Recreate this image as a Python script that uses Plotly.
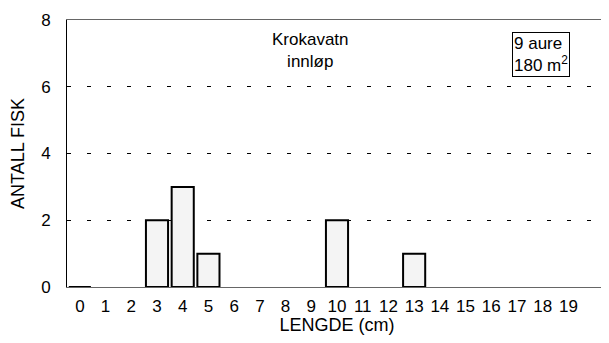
import plotly.graph_objects as go

lengths = list(range(20))
counts = [0, 0, 0, 2, 3, 1, 0, 0, 0, 0, 2, 0, 0, 1, 0, 0, 0, 0, 0, 0]
tick_labels = [str(v) for v in lengths]
y_ticks = [0, 2, 4, 6, 8]

# outline only for drawn bars (the reference shows the first empty class as a line)
line_widths = [2 if (c > 0 or i == 0) else 0 for i, c in enumerate(counts)]

fig = go.Figure()
fig.add_trace(go.Bar(
    x=lengths, y=counts, width=0.86,
    marker=dict(color="#f4f4f4", line=dict(color="black", width=line_widths)),
))

fnt = "Liberation Sans, Arial, sans-serif"
# the page body has an 8px margin, so the figure is sized/offset to compensate
fig.update_layout(
    width=601, height=327,
    margin=dict(l=59, r=2, t=12, b=48),
    plot_bgcolor="white", paper_bgcolor="white",
    showlegend=False,
    font=dict(family=fnt, color="black"),
    xaxis=dict(range=[-0.5, 20.5], tickvals=lengths, ticktext=tick_labels,
               tickfont=dict(size=17), showgrid=False, showline=True,
               linecolor="#666", linewidth=1, mirror=True, ticks="",
               automargin=False, ticklabelstandoff=4,
               title=dict(text="LENGDE (cm)", font=dict(size=18), standoff=2)),
    yaxis=dict(range=[0, 8], tickvals=y_ticks, tickfont=dict(size=17),
               showgrid=True, gridcolor="black", gridwidth=1,
               griddash="4px,16px", zeroline=False, showline=True,
               linecolor="black", linewidth=1, mirror=True, ticks="",
               automargin=False, ticklabelstandoff=12,
               title=dict(text="ANTALL FISK", font=dict(size=18), standoff=12)),
    annotations=[
        dict(x=0.45, y=0.97, xref="paper", yref="paper", xanchor="center",
             yanchor="top", showarrow=False, align="center",
             text="Krokavatn<br>innløp", font=dict(size=17)),
        dict(x=0.824, y=0.955, xref="paper", yref="paper", xanchor="left",
             yanchor="top", showarrow=False, align="left",
             text="9 aure<br>180 m<sup>2</sup>", font=dict(size=17),
             bordercolor="black", borderwidth=1, borderpad=1, bgcolor="white"),
    ],
)
fig.write_html("out.html")
